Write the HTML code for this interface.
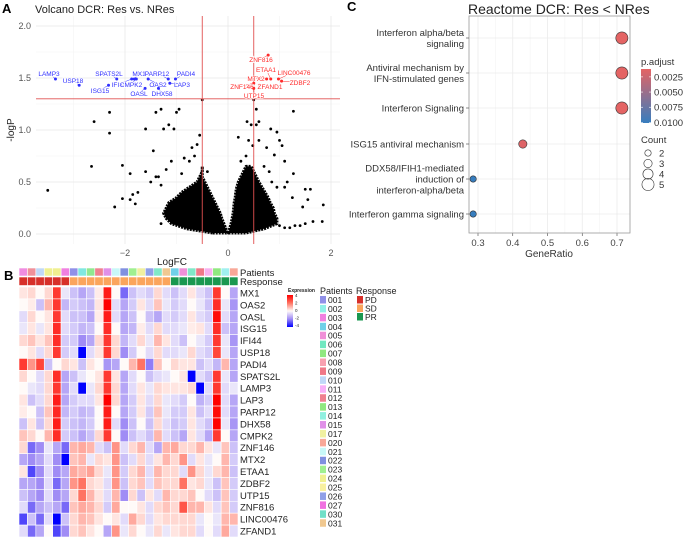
<!DOCTYPE html>
<html><head><meta charset="utf-8">
<style>
html,body{margin:0;padding:0;background:#fff;}
svg{display:block;font-family:"Liberation Sans","DejaVu Sans",sans-serif;}
</style></head>
<body>
<svg id="fig" width="685" height="539" viewBox="0 0 685 539" xmlns="http://www.w3.org/2000/svg">
<g id="panelA"></g>
<g id="panelB"></g>
<g id="panelC"></g>
</svg>
<script>
// ---------- Panel A data ----------
const volcLabeledGenes = ["LAMP3","USP18","ISG15","SPATS2L","IFI44","MX1","CMPK2","OAS2","OASL","DHX58","PARP12","LAP3","PADI4","ZNF816","ETAA1","MTX2","ZNF146","UTP15","ZFAND1","LINC00476","ZDBF2"];
const volcLabeledFC = [-3.35,-2.89,-2.32,-2.16,-1.87,-1.82,-1.78,-1.55,-1.61,-1.35,-1.16,-1.13,-1.02,0.78,0.83,0.75,0.50,0.50,0.61,0.98,1.04];
const volcLabeledP = [1.49,1.43,1.43,1.49,1.49,1.49,1.49,1.49,1.40,1.40,1.49,1.45,1.49,1.72,1.49,1.49,1.45,1.40,1.43,1.49,1.47];
const volcLabelUp = [false,false,false,false,false,false,false,false,false,false,false,false,false,true,true,true,true,true,true,true,true];
const volcOutFC = [-3.5,-2.65,-2.6,-2.3,-2.3,-2.05,-2.05,-2.2,-1.9,-1.8,-1.6,-1.45,-1.4,-1.3,-1.15,-1.25,-1.05,-0.95,-1.0,-0.55,-0.6,-0.7,-0.65,-0.75,-0.85,-1.1,-1.6,-1.4,-1.5,-0.5,-1.3,-1.75,-1.85,-1.3,-1.9,1.27,0.55,0.37,0.45,0.55,0.6,0.83,0.95,0.2,0.4,0.48,0.6,0.75,0.9,1.05,1.0,1.1,1.27,1.5,1.6,1.55,1.45,1.85,1.83,1.65,1.5,1.4,1.3,1.2,1.1,1.0,1.25,1.1,1.15,0.7,0.8,0.25,0.35,-0.5,0.5,-1.2,-0.9,-1.35,-0.4,0.85,0.95];
const volcOutP = [0.42,0.65,1.08,1.17,0.97,0.66,0.34,0.26,0.58,0.29,1.01,0.8,1.17,1.2,1.05,1.01,1.01,1.2,1.17,0.95,0.86,0.83,0.75,0.70,0.73,0.7,0.6,0.55,0.5,0.5,0.47,0.4,0.38,0.1,0.33,1.18,1.2,1.08,1.05,1.05,1.08,1.01,0.98,0.93,0.9,0.85,0.9,0.83,0.76,0.85,0.9,0.7,0.58,0.43,0.43,0.33,0.26,0.28,0.12,0.12,0.1,0.08,0.08,0.06,0.06,0.08,0.35,0.45,0.5,0.65,0.6,0.7,0.75,1.29,1.29,0.62,0.58,0.55,0.6,0.5,0.45];
// dense cloud envelopes (per -logP level, logFC range)
const cloudLevels = [0.01,0.05,0.1,0.15,0.2,0.25,0.3,0.35,0.4,0.45,0.5,0.55,0.6,0.65];
const cloudLeftMin = [-0.3,-0.8,-1.1,-1.2,-1.25,-1.2,-1.15,-1.0,-0.9,-0.75,-0.6,-0.55,-0.5,-0.5];
const cloudLeftMax = [-0.01,-0.04,-0.08,-0.12,-0.15,-0.2,-0.25,-0.3,-0.35,-0.4,-0.45,-0.5,-0.5,-0.5];
const cloudRightMin = [0.01,0.03,0.06,0.08,0.1,0.11,0.12,0.14,0.15,0.17,0.2,0.25,0.3,0.35];
const cloudRightMax = [0.35,0.7,0.95,0.95,0.9,0.88,0.82,0.78,0.72,0.66,0.6,0.55,0.5,0.45];
const volcXTicks = [-2,0,2];
const volcYTicks = [0,0.5,1,1.5,2];

// ---------- Panel B data ----------
const heatGenes = ["MX1","OAS2","OASL","ISG15","IFI44","USP18","PADI4","SPATS2L","LAMP3","LAP3","PARP12","DHX58","CMPK2","ZNF146","MTX2","ETAA1","ZDBF2","UTP15","ZNF816","LINC00476","ZFAND1"];
const heatValues = [
[0.3,0.5,0,0.5,3,-0.3,-1,-1.5,-1,0.2,3.5,0,-2.5,-1,-0.5,-0.8,0.5,-0.5,-1,-0.5,0.3,-0.5,-1,3,0,-1.5],
[0,0.2,-1,1,3,-1.2,-0.8,-1,-1.2,0.3,4,-0.5,-1.5,-0.8,0.3,-0.5,0.8,-0.3,-0.8,-0.5,0,-0.3,-1,3.2,-0.3,-1.8],
[-0.5,0.5,0,0.3,3,-0.5,-1,-1,-1.5,0.2,3.5,-0.5,-1.5,-1,0,-1,-1.5,-0.5,-0.8,-0.5,0.3,-0.5,-0.8,3.8,-0.5,-1.5],
[-0.3,0.3,-0.3,0.3,3.2,-0.5,-0.8,-1.2,-1,0,3.2,0,-1.5,-1.2,0.2,-0.5,0.5,-0.5,-0.5,-0.3,0.2,0.3,-0.5,3.2,-1,-1.5],
[0.5,0.8,0.3,0.8,3.2,-0.8,-0.8,-2,-1.5,0.5,3,0.5,-1.2,-0.5,0.5,-0.3,1,0.3,-0.5,-1,0,-0.3,-0.8,3,-0.3,-1.8],
[0,0.3,-0.5,0.5,3,-0.8,-0.5,-4,-0.5,0.3,3,0.5,-2,-0.8,0,-0.5,0.5,-0.5,-0.5,-0.3,0.5,-0.5,-0.8,2.8,-0.3,-1.5],
[3,1.5,2.8,-1,0,0.5,0.3,-1,0.3,0,-1.8,-1.5,0,1,2,-2.2,0.8,0,0.5,0.3,0.3,-1,-0.5,-1.2,1,-1.5],
[0.5,0,-0.5,0.5,3.2,-1.5,-1,-0.3,0,0.3,3,0.3,-1.5,-0.5,0,-1,-0.5,-0.3,0,0.3,-4,-0.5,-1,3,-0.3,-1.5],
[0,-0.3,-0.5,0.5,3,-1.5,-0.5,-4,-0.3,0.5,3,0.5,-1.5,-0.5,0.3,-0.3,0.5,0.3,0.3,0.3,0.5,-4,-0.5,3,-0.5,-0.3],
[0.3,-1,-0.5,0.5,3.5,-1.5,-0.8,-0.5,-0.5,0.3,4,0.5,-1.5,-0.8,0.3,-0.5,0.5,-0.3,-0.5,-0.8,0,-1.3,-0.8,4,-0.5,-1.5],
[0.2,0,-1,0.8,3.3,-1.2,-0.8,-1.2,-1,0,3.5,0,-1.5,-0.8,0.3,-0.8,0.8,-0.3,-0.8,-0.8,0.3,-1,-0.5,3.8,-0.5,-1.5],
[-1,0.3,-1,0.5,3.5,-0.8,-1,-1.2,-0.8,0,3.5,-0.5,-2,-1,0,-1,0.5,-0.5,-1,-0.8,0.3,-0.5,-1,4,-0.3,-1.8],
[0.8,0.5,0,1,3.2,-0.8,-1,-1.5,-1,0.5,3,0,-2,-1,-0.5,-1,1,-0.5,-1,-1.5,0.3,-0.5,-1.5,3,0,-1.5],
[0.5,-2.5,-2,-0.3,-1.5,-2.5,1,1.2,1,-0.5,-1,1.5,-0.5,0.5,1,-0.5,-1.5,1,1.2,0.5,0.5,1,0.3,-0.3,0.8,-1],
[-1.5,-2,-1.5,-0.5,-2,-4,0.8,1,-0.3,0.5,0.3,1.5,-1,-0.5,0.5,-0.5,0.3,1,0.5,1.5,-0.5,0.3,-0.3,0,1,-0.8],
[0.3,-3,-2,-0.5,-2,-1.5,1.2,1,1.3,0.5,-0.3,1.5,-0.8,0.5,1,-0.5,1,0.5,0.5,-0.5,1.5,0.5,-0.3,0.5,1,-1],
[-1.5,-1.5,-2,-0.5,-2.5,-1.5,1.5,2,0.5,0.3,-0.5,1.5,-1,0.5,0.8,-0.5,0.8,0.5,0.5,2,0.3,0.5,-0.3,-1,0.8,-0.8],
[-1,-1.5,-2,-0.5,-2,-1.5,0.5,2,1,0.3,-0.5,1,-2,0.5,-1,0.3,-0.5,1,0.5,0.5,0.8,0,-0.5,-1,0.8,-0.8],
[-0.5,-2.5,-1.5,-1,-1.5,-2.5,0.8,1.2,1,0.5,-0.8,1.2,0,0,0.3,-0.5,0.5,0.8,0.5,2.5,1,1,0.3,-0.5,0.8,-0.8],
[-3,-1,-2.5,-0.5,-4,-1,0.5,1,0.8,0.3,0,0.3,-0.5,1.2,0.5,-0.5,0.3,0.5,0.5,0.5,0.5,-0.3,0,-0.3,1,1],
[-0.5,-2.5,-1.5,0,-3,-2,0.5,0.8,0.3,0,-1.5,1.5,-0.3,0.5,0,-0.3,0.5,-0.3,0.3,0.5,0.5,-0.5,0,-0.5,1.2,-0.5]];
const heatPatientColors = ["#f08ce0","#f0909a","#c0d8f8","#f0f090","#f0f090","#f080e0","#9090e8","#80e8e0","#90e890","#f08090","#e090e8","#c8f8f8","#8090e0","#a0f090","#f0f0a0","#90a0e8","#80e8c8","#f0c890","#70d0e8","#f090d8","#80e8c8","#f07888","#f8b0f0","#90e880","#a0f0f0","#f8a898"];
const heatResponse = ["PD","PD","PD","PD","PD","PD","SD","SD","SD","SD","SD","SD","SD","SD","SD","SD","SD","SD","PR","PR","PR","PR","PR","PR","PR","PR"];
const patientIds = ["001","002","003","004","005","006","007","008","009","010","011","012","013","014","015","017","020","021","022","023","024","025","026","027","030","031"];
const patientLegendColors = ["#9090e8","#90f0e8","#f080e0","#70d0e8","#f090d8","#70e8c0","#90e880","#f8a0b0","#f07888","#c0d8f8","#f8b0f8","#f08090","#90e880","#90f0e0","#e090e8","#f0f0a0","#f8a898","#c8f8f8","#8090e0","#a0f090","#f0f090","#f8f0a0","#90a0e8","#f070e0","#70e0c8","#f0c890"];
const responseLevels = ["PD","SD","PR"];
const responseColors = ["#d7302a","#fba55c","#1a9850"];

// ---------- Panel C data ----------
const pathways = [["Interferon alpha/beta","signaling"],["Antiviral mechanism by","IFN-stimulated genes"],["Interferon Signaling"],["ISG15 antiviral mechanism"],["DDX58/IFIH1-mediated","induction of","interferon-alpha/beta"],["Interferon gamma signaling"]];
const geneRatio = [0.714,0.714,0.714,0.429,0.286,0.286];
const pathCount = [5,5,5,3,2,2];
const pAdjust = [0.0012,0.0012,0.0012,0.0015,0.0101,0.0101];
const gxTicks = [0.3,0.4,0.5,0.6,0.7];
const pLegendTicks = [0.0025,0.0050,0.0075,0.0100];
const countLegend = [2,3,4,5];

const NS="http://www.w3.org/2000/svg";
function mk(parent,tag,attrs,text){const e=document.createElementNS(NS,tag);for(const k in attrs)e.setAttribute(k,attrs[k]);if(text!==undefined)e.textContent=text;parent.appendChild(e);return e;}

// ===== Panel A =====
(function(){
const g=document.getElementById('panelA');
const xs=v=>228+v*51.5, ys=v=>234-v*104;
let t=mk(g,'text',{x:2,y:13,'font-size':13,'font-weight':'bold'},'A');

t=mk(g,'text',{x:35,y:13,'font-size':11,fill:'#222'},'Volcano DCR: Res vs. NRes');

[-3,-1,1].forEach(v=>mk(g,'line',{x1:xs(v),x2:xs(v),y1:16,y2:244,stroke:'#f3f3f3','stroke-width':0.6}));
[0.25,0.75,1.25,1.75].forEach(v=>mk(g,'line',{x1:36,x2:340,y1:ys(v),y2:ys(v),stroke:'#f3f3f3','stroke-width':0.6}));
volcXTicks.forEach(v=>{mk(g,'line',{x1:xs(v),x2:xs(v),y1:16,y2:244,stroke:'#e8e8e8','stroke-width':0.8});
 const l=mk(g,'text',{x:xs(v),y:256,'font-size':9,fill:'#555','text-anchor':'middle'},v===0?'0':(v<0?'−'+Math.abs(v):v));
 });
volcYTicks.forEach(v=>{mk(g,'line',{x1:36,x2:340,y1:ys(v),y2:ys(v),stroke:'#e8e8e8','stroke-width':0.8});
 const l=mk(g,'text',{x:31,y:ys(v)+3,'font-size':9,fill:'#555','text-anchor':'end'},v.toFixed(1));
 });
t=mk(g,'text',{x:172,y:265,'font-size':10,fill:'#222','text-anchor':'middle'},'LogFC');

t=mk(g,'text',{x:14,y:130,'font-size':10,fill:'#222','text-anchor':'middle',transform:'rotate(-90 14 130)'},'-logP');

function lobe(mins,maxs,name){let d='';cloudLevels.forEach((y,i)=>{d+=(i?'L':'M')+xs(mins[i])+','+ys(y);});
 for(let i=cloudLevels.length-1;i>=0;i--)d+='L'+xs(maxs[i])+','+ys(cloudLevels[i]);d+='Z';
 const p=mk(g,'path',{d:d,fill:'#000',stroke:'#000','stroke-width':3,'stroke-linejoin':'round','stroke-dasharray':'2 1'});
 }
lobe(cloudLeftMin,cloudLeftMax,'dense-cloud-down');
lobe(cloudRightMin,cloudRightMax,'dense-cloud-up');
volcOutFC.forEach((v,i)=>{const c=mk(g,'circle',{cx:xs(v),cy:ys(volcOutP[i]),r:1.4,fill:'#000'});
 });
[-0.5,0.5].forEach(v=>{const l=mk(g,'line',{x1:xs(v),x2:xs(v),y1:16,y2:244,stroke:'#e05050','stroke-width':0.9});
 });
let hl=mk(g,'line',{x1:36,x2:340,y1:ys(1.3),y2:ys(1.3),stroke:'#e05050','stroke-width':0.9});

const lp={LAMP3:[49,76],USP18:[73,83],ISG15:[100,93],SPATS2L:[109,76],IFI44:[119,87],MX1:[139,76],CMPK2:[131,87],OAS2:[158,87],OASL:[139,96],DHX58:[162,96],PARP12:[157,76],LAP3:[182,87],PADI4:[186,76],ZNF816:[261,62],ETAA1:[266,72],MTX2:[256,81],ZNF146:[242,89],UTP15:[254,98],ZFAND1:[270,89],LINC00476:[294,75],ZDBF2:[300,85]};
volcLabeledGenes.forEach((gname,i)=>{const col=volcLabelUp[i]?'#ff2a2a':'#3030ff';
 const px=xs(volcLabeledFC[i]),py=ys(volcLabeledP[i]);const [lx,ly]=lp[gname];
 mk(g,'line',{x1:px,y1:py,x2:lx,y2:ly-3,stroke:col,'stroke-width':0.5});
 const c=mk(g,'circle',{cx:px,cy:py,r:1.5,fill:col});
 
 const tx=mk(g,'text',{x:lx,y:ly,'font-size':6.5,fill:col,'text-anchor':'middle',stroke:'#fff','stroke-width':1.5,'paint-order':'stroke'},gname);
 });
})();

// ===== Panel B =====
(function(){
const g=document.getElementById('panelB');
const x0=19,cw=219/26,y0=287,rh=250/21;
let t=mk(g,'text',{x:4,y:280,'font-size':13,'font-weight':'bold'},'B');

function col(v){const c=Math.max(-4,Math.min(4,v));let r,gg,b;
 if(c>=0){if(c<=2){const f=c/2;r=255;gg=250-f*135;b=248-f*150;}else{const f=(c-2)/2;r=255;gg=115-f*115;b=98-f*98;}}
 else{const a=-c;if(a<=2){const f=a/2;r=248-f*88;gg=246-f*106;b=252-f*7;}else{const f=(a-2)/2;r=160-f*160;gg=140-f*140;b=245+f*10;}}
 return `rgb(${r|0},${gg|0},${b|0})`;}
heatPatientColors.forEach((c,j)=>{const r=mk(g,'rect',{x:x0+j*cw,y:268,width:cw,height:8,fill:c,stroke:'#fff','stroke-width':0.6});
 });
heatResponse.forEach((rv,j)=>{const r=mk(g,'rect',{x:x0+j*cw,y:277,width:cw,height:8.5,fill:responseColors[responseLevels.indexOf(rv)],stroke:'#fff','stroke-width':0.6});
 });
heatValues.forEach((row,i)=>{row.forEach((v,j)=>{const r=mk(g,'rect',{x:x0+j*cw,y:y0+i*rh,width:cw,height:rh,fill:col(v),stroke:'#fff','stroke-width':0.6});
 });
 const l=mk(g,'text',{x:240,y:y0+i*rh+rh/2+3.5,'font-size':9.5,fill:'#222'},heatGenes[i]);
 });
t=mk(g,'text',{x:240,y:276,'font-size':9.5,fill:'#222'},'Patients');
t=mk(g,'text',{x:240,y:285,'font-size':9.5,fill:'#222'},'Response');
t=mk(g,'text',{x:288,y:292,'font-size':5,'font-weight':'bold',fill:'#222'},'Expression');
const gr=mk(g,'linearGradient',{id:'expgrad',x1:0,y1:0,x2:0,y2:1});
[4,2,0,-2,-4].forEach((v,k)=>mk(gr,'stop',{offset:k/4,'stop-color':col(v)}));
let cb=mk(g,'rect',{x:287,y:295,width:6,height:32,fill:'url(#expgrad)'});
[4,2,0,-2,-4].forEach((v,k)=>{const l=mk(g,'text',{x:295,y:297+k*7.5,'font-size':4.5,fill:'#222'},v<0?'-'+Math.abs(v):String(v));});
t=mk(g,'text',{x:320,y:294,'font-size':9,fill:'#222'},'Patients');
patientIds.forEach((id,k)=>{const y=296+k*8.93;
 const r=mk(g,'rect',{x:320,y:y,width:6,height:7.5,fill:patientLegendColors[k]});
 const l=mk(g,'text',{x:328,y:y+7,'font-size':8.5,fill:'#222'},id);});
t=mk(g,'text',{x:356,y:294,'font-size':9,fill:'#222'},'Response');
responseLevels.forEach((lv,k)=>{const y=296+k*8.5;
 const r=mk(g,'rect',{x:357,y:y,width:6,height:7.5,fill:responseColors[k]});
 const l=mk(g,'text',{x:365,y:y+7,'font-size':8.5,fill:'#222'},lv);});
})();

// ===== Panel C =====
(function(){
const g=document.getElementById('panelC');
const xs=v=>478+(v-0.3)*347.5;const rowY=[38,73,108,144,179,214];
let t=mk(g,'text',{x:347,y:11,'font-size':13,'font-weight':'bold'},'C');
t=mk(g,'text',{x:468,y:14,'font-size':14,fill:'#222'},'Reactome DCR: Res < NRes');
[0.35,0.45,0.55,0.65].forEach(v=>mk(g,'line',{x1:xs(v),x2:xs(v),y1:16,y2:233,stroke:'#f3f3f3','stroke-width':0.6}));
gxTicks.forEach(v=>{mk(g,'line',{x1:xs(v),x2:xs(v),y1:16,y2:233,stroke:'#ebebeb','stroke-width':0.8});
 mk(g,'line',{x1:xs(v),x2:xs(v),y1:233,y2:236,stroke:'#444','stroke-width':0.6});
 const l=mk(g,'text',{x:xs(v),y:246,'font-size':9.5,fill:'#444','text-anchor':'middle'},v.toFixed(1));});
rowY.forEach(y=>mk(g,'line',{x1:469,x2:630,y1:y,y2:y,stroke:'#ebebeb','stroke-width':0.8}));
let fr=mk(g,'rect',{x:469,y:16,width:161,height:217,fill:'none',stroke:'#999','stroke-width':0.8});
function pcol(p){const f=Math.max(0,Math.min(1,(p-0.0012)/(0.0101-0.0012)));
 const r=228+f*(55-228),gg=100+f*(125-100),b=100+f*(190-100);return `rgb(${r|0},${gg|0},${b|0})`;}
const rad=c=>1.3+c*0.95;
pathways.forEach((lines,i)=>{const n=lines.length,y=rowY[i];
 lines.forEach((s,k)=>{const l=mk(g,'text',{x:464,y:y+3.5+(k-(n-1)/2)*11,'font-size':9.5,fill:'#333','text-anchor':'end'},s);});
 mk(g,'line',{x1:466,x2:469,y1:y,y2:y,stroke:'#444','stroke-width':0.6});
 const c=mk(g,'circle',{cx:xs(geneRatio[i]),cy:y,r:rad(pathCount[i]),fill:pcol(pAdjust[i]),stroke:'#333','stroke-width':0.6});
 });
t=mk(g,'text',{x:549,y:257,'font-size':10,fill:'#333','text-anchor':'middle'},'GeneRatio');
t=mk(g,'text',{x:641,y:65,'font-size':9.5,fill:'#333'},'p.adjust');
const gr=mk(g,'linearGradient',{id:'pgrad',x1:0,y1:0,x2:0,y2:1});
mk(gr,'stop',{offset:0,'stop-color':pcol(0.0012)});mk(gr,'stop',{offset:1,'stop-color':pcol(0.0101)});
let cb=mk(g,'rect',{x:641,y:69,width:10,height:54,fill:'url(#pgrad)'});
pLegendTicks.forEach(v=>{const y=69+(v-0.0012)/(0.0101-0.0012)*54;
 mk(g,'line',{x1:641,x2:643,y1:y,y2:y,stroke:'#fff','stroke-width':0.6});mk(g,'line',{x1:649,x2:651,y1:y,y2:y,stroke:'#fff','stroke-width':0.6});
 const l=mk(g,'text',{x:654,y:y+3.5,'font-size':9.5,fill:'#333'},v.toFixed(4));});
t=mk(g,'text',{x:641,y:143,'font-size':9.5,fill:'#333'},'Count');
countLegend.forEach((c,k)=>{const y=153+k*10.5;
 const ci=mk(g,'circle',{cx:648,cy:y,r:rad(c),fill:'none',stroke:'#333','stroke-width':0.6});
 const l=mk(g,'text',{x:659,y:y+3.5,'font-size':9.5,fill:'#333'},String(c));});
})();
</script>
</body></html>
